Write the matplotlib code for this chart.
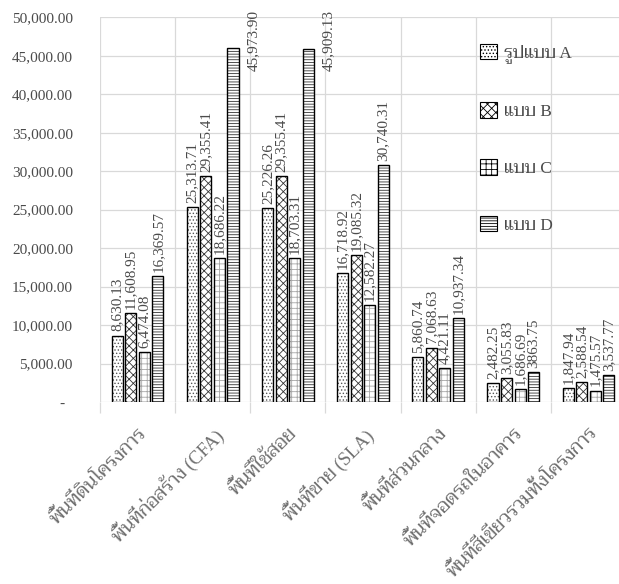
import matplotlib
matplotlib.use('Agg')
import matplotlib.pyplot as plt
from matplotlib.patches import Patch
import numpy as np

plt.rcParams['font.family'] = ['Liberation Serif', 'Taviraj', 'DejaVu Sans']
plt.rcParams['hatch.linewidth'] = 0.6

categories = ['พื้นที่ดินโครงการ', 'พื้นที่ก่อสร้าง (CFA)', 'พื้นที่ใช้สอย', 'พื้นที่ขาย (SLA)',
              'พื้นที่ส่วนกลาง', 'พื้นที่จอดรถในอาคาร', 'พื้นที่สีเขียวรวมทั้งโครงการ']
series = ['รูปแบบ A', 'แบบ B', 'แบบ C', 'แบบ D']
val_a = [8630.13, 25313.71, 25226.26, 16718.92, 5860.74, 2482.25, 1847.94]
val_b = [11608.95, 29355.41, 29355.41, 19085.32, 7068.63, 3055.83, 2588.54]
val_c = [6474.08, 18686.22, 18703.31, 12582.27, 4421.11, 1686.69, 1475.57]
val_d = [16369.57, 45973.90, 45909.13, 30740.31, 10937.34, 3863.75, 3537.77]
# this one value is printed without a thousands separator
plain_values = [3863.75]

hatches = ['.....', 'xxxx', '+++', '------']
hatch_cols = ['#555555', '#333333', '#a6a6a6', '#333333']
txt_col = '#4a4a4a'
grid_col = '#d9d9d9'
ymax = 50000

fig = plt.figure(figsize=(6.19, 5.84), dpi=100)
ax = fig.add_axes([100/619, 182/584, 526/619, 384.7/584])

x = np.arange(len(categories))
slot = 0.18
width = 0.147
for i, vals in enumerate([val_a, val_b, val_c, val_d]):
    pos = x + (i - 1.5) * slot
    ax.bar(pos, vals, width, color='white', edgecolor=hatch_cols[i], hatch=hatches[i],
           linewidth=0, zorder=2)
    bars = ax.bar(pos, vals, width, fill=False, edgecolor='black', linewidth=1.0, zorder=3)
    labels = [f"{v:.2f}" if v in plain_values else f"{v:,.2f}" for v in vals]
    # labels that would run past the top go beside the bar instead
    inside = [lab if v < ymax * 0.86 else '' for v, lab in zip(vals, labels)]
    ax.bar_label(bars, labels=inside, rotation=90, padding=3, fontsize=11, color=txt_col)
    for p, v, lab in zip(pos, vals, labels):
        if v >= ymax * 0.86:
            ax.annotate(lab, (p + 0.27, 1.0), xycoords=('data', 'axes fraction'),
                        xytext=(0, 5), textcoords='offset points', rotation=90,
                        ha='center', va='top', fontsize=11, color=txt_col,
                        annotation_clip=False)

handles = [Patch(facecolor='white', edgecolor='black', hatch=hatches[i], linewidth=0.8)
           for i in range(4)]
ax.legend(handles, series, loc='upper left', bbox_to_anchor=(464/619, 1 - 28/584),
          bbox_transform=fig.transFigure, frameon=False, fontsize=12.5,
          labelspacing=2.25, handlelength=1.0, handleheight=1.0, handletextpad=0.4,
          labelcolor=txt_col)

ax.set_ylim(0, ymax)
ax.set_xlim(-0.5, len(categories) - 0.5)
yt = np.arange(0, ymax + 1, 5000)
ax.set_yticks(yt, [f"{v:,.2f}" if v else "-  " for v in yt])
ax.tick_params(axis='y', length=0, pad=19.5, labelsize=11, labelcolor=txt_col)
ax.yaxis.grid(True, color=grid_col, linewidth=0.9, zorder=0)

# gridlines at category boundaries, names at centres
ax.set_xticks(np.arange(len(categories) + 1) - 0.5)
ax.set_xticklabels([])
ax.tick_params(axis='x', which='major', length=8, color=grid_col, width=0.9)
ax.xaxis.grid(True, which='major', color=grid_col, linewidth=0.9, zorder=0)
ax.set_xticks(x, categories, minor=True)
ax.tick_params(axis='x', which='minor', length=0, pad=16, labelsize=13.5, labelcolor='#6e6e6e')
for lab in ax.get_xticklabels(minor=True):
    lab.set_rotation(45)
    lab.set_ha('right')
    lab.set_rotation_mode('anchor')

for s in ax.spines.values():
    s.set_visible(False)
ax.set_axisbelow(True)

plt.savefig('out.png', dpi=100)
